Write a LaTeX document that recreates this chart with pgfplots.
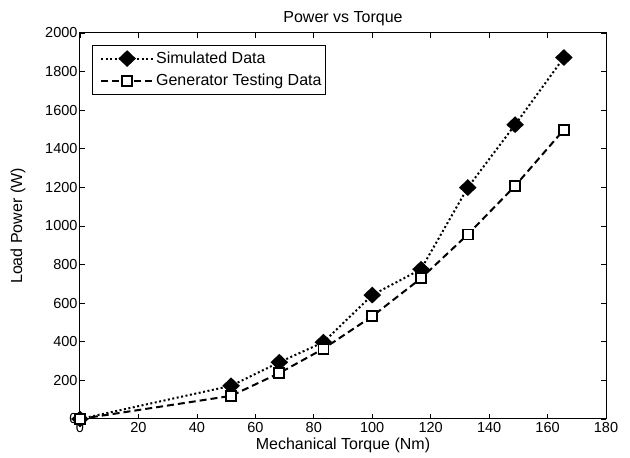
\documentclass[border=0pt]{standalone}
\usepackage{pgfplots}
\pgfplotsset{compat=1.18}
\usepackage{fontspec}
\setmainfont{Liberation Sans}
\begin{document}
\begin{tikzpicture}
\begin{axis}[
  scale only axis,
  width=526pt, height=386pt,
  xmin=0, xmax=180, ymin=0, ymax=2000,
  xtick={0,20,...,180},
  ytick={0,200,...,2000},
  tick align=inside,
  major tick length=5pt,
  axis line style={line width=1pt},
  every tick/.style={black, line width=0.7pt},
  tick label style={font=\fontsize{14.5}{16}\selectfont},
  label style={font=\fontsize{16}{18}\selectfont},
  title style={font=\fontsize{16}{18}\selectfont},
  /pgf/number format/assume math mode=true,
  /pgf/number format/1000 sep={},
  xticklabel style={anchor=base, yshift=-14pt},
  yticklabel style={xshift=1pt},
  title={Power vs Torque},
  xlabel={Mechanical Torque (Nm)},
  ylabel={Load Power (W)},
  xlabel style={at={(axis description cs:0.5,0)}, anchor=base, yshift=-31pt},
  ylabel style={at={(axis description cs:0,0.5)}, anchor=center, yshift=62pt},
  title style={at={(axis description cs:0.5,1)}, anchor=base, yshift=4pt},
  legend cell align=left,
  legend style={at={(axis cs:4,1940)}, anchor=north west, draw=black, line width=0.9pt,
     inner xsep=2pt, inner ysep=5pt, row sep=5pt, font=\fontsize{16}{18}\selectfont},
  legend image code/.code={\draw[mark repeat=2,mark phase=2] plot coordinates {(6pt,0pt)(32pt,0pt)(58pt,0pt)};\path (0pt,0pt);},
]
\addplot[black, line width=2pt, dash pattern=on 2pt off 2.5pt, mark=diamond*, mark size=7pt,
  mark options={solid, fill=black, xscale=1.4}]
  coordinates {(0,0) (51.7,172) (68.2,294) (83.3,398) (100,642) (116.7,776) (132.7,1199) (148.9,1525) (165.6,1873)};
\addlegendentry{Simulated Data}
\addplot[black, line width=2pt, dash pattern=on 7pt off 4pt, mark=square*, mark size=5pt,
  mark options={solid, fill=white, line width=1.8pt}]
  coordinates {(0,0) (51.7,120) (68.2,238) (83.3,364) (100,532) (116.7,729) (132.7,956) (148.9,1208) (165.6,1499)};
\addlegendentry{Generator Testing Data}
\end{axis}
\pgfresetboundingbox
\path[use as bounding box] (-80pt,-39pt) rectangle (550pt,419pt);
\end{tikzpicture}
\end{document}
